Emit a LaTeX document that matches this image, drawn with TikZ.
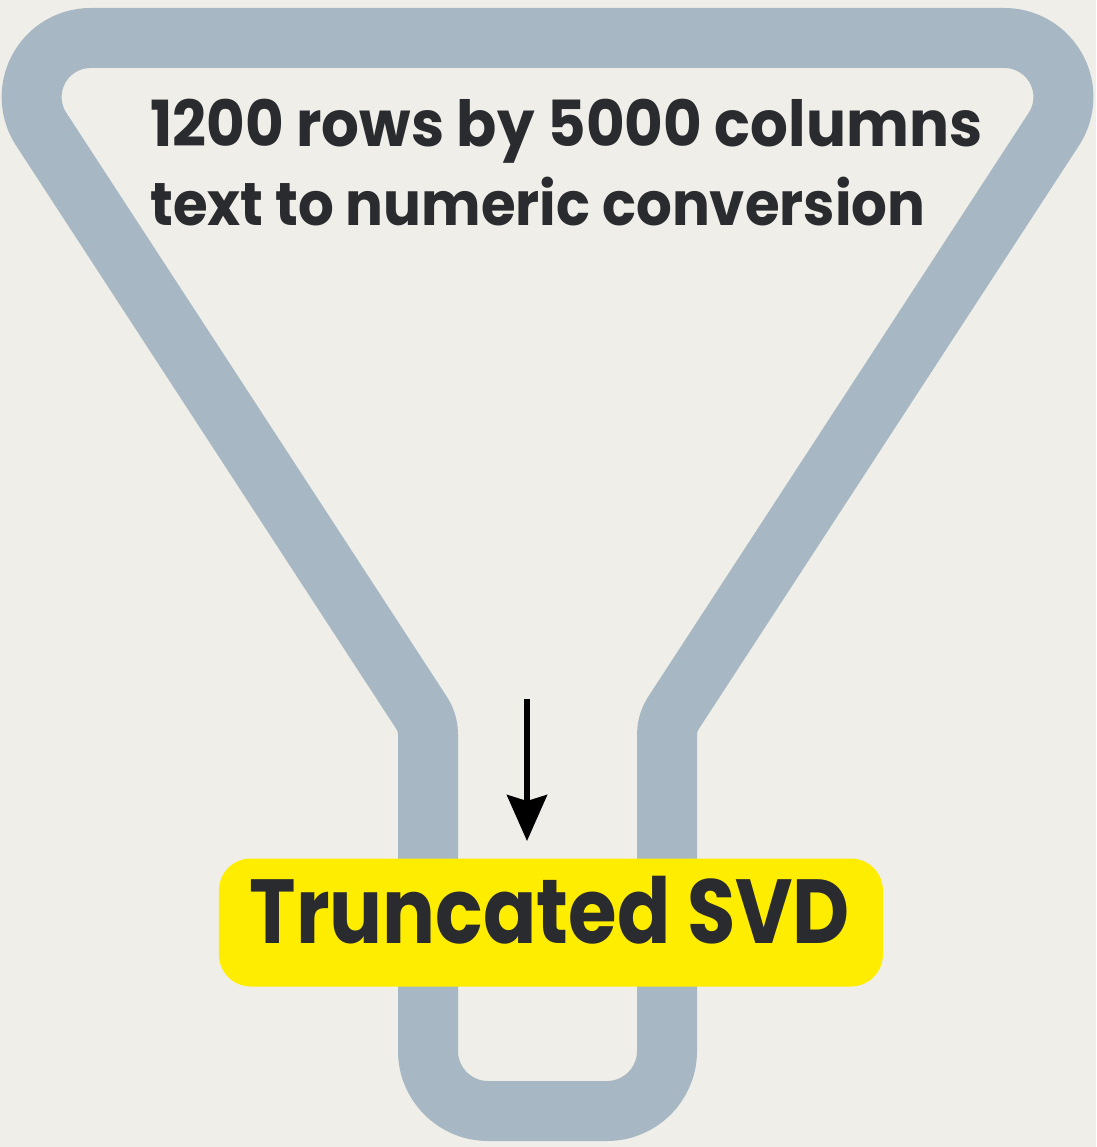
\documentclass[tikz,border=0pt]{standalone}
\usepackage{fontspec}
\setmainfont{Poppins}
\usetikzlibrary{arrows.meta}
\definecolor{bgcol}{HTML}{EFEEE8}
\definecolor{bandcol}{HTML}{A7B8C4}
\definecolor{svdyellow}{HTML}{FFED00}
\definecolor{inkcol}{HTML}{2A2B2F}
\tikzset{
  band/.style={draw=bandcol, line width=60pt, line join=round},
  svdbox/.style={fill=svdyellow, rounded corners=32pt, minimum width=664pt, minimum height=128pt, inner sep=0pt},
  label/.style={inner sep=0pt, text=inkcol, font=\bfseries},
  flowarrow/.style={draw=black, line width=5.5pt, -{Stealth[length=46pt,width=40pt,inset=6pt]}}
}
\begin{document}
\begin{tikzpicture}[x=1pt,y=-1pt]
\fill[bgcol] (0,0) rectangle (1096,1147);
\useasboundingbox (0,0) rectangle (1096,1147);
% funnel band (centre line)
\draw[band] (90.6,38) -- (1004.4,38)
  arc[start angle=-90, end angle=33.1, radius=59]
  -- (673.2,713.3)
  arc[start angle=213.1, end angle=180, radius=38]
  -- (667,1051)
  arc[start angle=0, end angle=90, radius=60]
  -- (488,1111)
  arc[start angle=90, end angle=180, radius=60]
  -- (428,734)
  arc[start angle=0, end angle=-33.1, radius=38]
  -- (41.2,129.2)
  arc[start angle=146.9, end angle=270, radius=59]
  -- cycle;
% labels at top
\node[label, anchor=base west] (line1) at (150,146.7) {\resizebox{832pt}{47.4pt}{1200 rows by 5000 columns}};
\node[label, anchor=base west] (line2) at (150,225.7) {\resizebox{775pt}{48.4pt}{text to numeric conversion}};
% arrow
\coordinate (arrowstart) at (527,699);
\coordinate (arrowend) at (527,841);
\draw[flowarrow] (arrowstart) -- (arrowend);
% yellow box
\node[svdbox] (svd) at (550.9,922.5) {};
\node[label, anchor=base] (svdtext) at (549.8,943.3) {\resizebox{600pt}{67.3pt}{Truncated SVD}};
\end{tikzpicture}
\end{document}
